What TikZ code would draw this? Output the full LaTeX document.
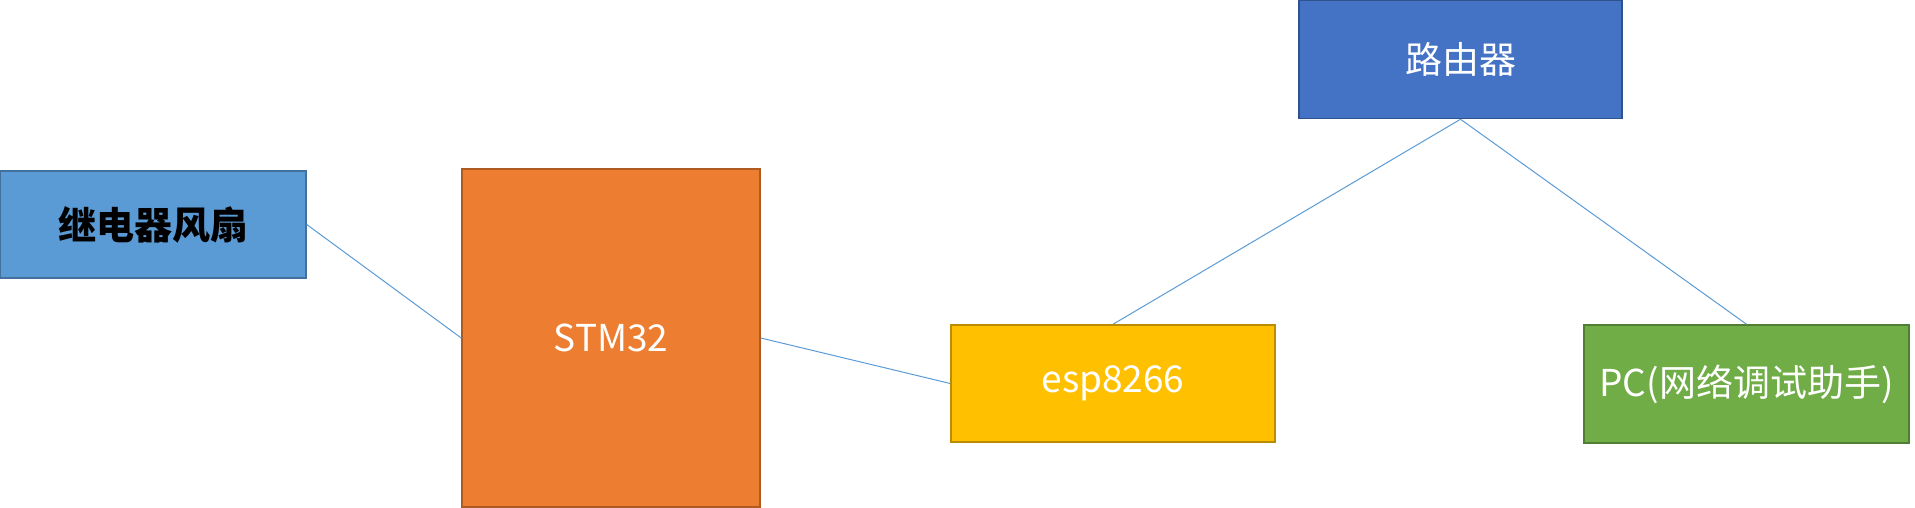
\documentclass[tikz,border=0pt]{standalone}
\usepackage{fontspec}
\setmainfont{Noto Sans CJK SC}
\definecolor{relayfill}{HTML}{5B9BD5}
\definecolor{relaydraw}{HTML}{41719C}
\definecolor{stmfill}{HTML}{ED7D31}
\definecolor{stmdraw}{HTML}{AE5A21}
\definecolor{routfill}{HTML}{4472C4}
\definecolor{routdraw}{HTML}{2F528F}
\definecolor{espfill}{HTML}{FFC000}
\definecolor{espdraw}{HTML}{BC8C00}
\definecolor{pcfill}{HTML}{70AD47}
\definecolor{pcdraw}{HTML}{507E32}
\definecolor{wire}{HTML}{5B9BD5}
\tikzset{
  box/.style={rectangle, line width=1.5pt, inner sep=0pt, text=white, font=\fontsize{37}{44}\selectfont},
  link/.style={draw=wire, line width=1pt}
}
\begin{document}
\begin{tikzpicture}[x=1pt,y=-1pt]
\useasboundingbox (0,0) rectangle (1915,508);
\node[box, fill=relayfill, draw=relaydraw, minimum width=306, minimum height=107, text=black, font=\fontsize{38}{44}\selectfont\bfseries] (relay) at (153,224.5) {继电器风扇};
\node[box, fill=stmfill, draw=stmdraw, minimum width=298, minimum height=338] (stm) at (611,338) {STM32};
\node[box, fill=routfill, draw=routdraw, minimum width=323, minimum height=118] (router) at (1460.5,59.5) {路由器};
\node[box, fill=espfill, draw=espdraw, minimum width=324, minimum height=117] (esp) at (1113,383.5) {esp8266};
\node[box, fill=pcfill, draw=pcdraw, minimum width=325, minimum height=118] (pc) at (1746.5,384) {PC(网络调试助手)};
\draw[link] (relay.east) -- (stm.west);
\draw[link] (stm.east) -- (esp.west);
\draw[link] (esp.north) -- (router.south);
\draw[link] (router.south) -- (pc.north);
\end{tikzpicture}
\end{document}
